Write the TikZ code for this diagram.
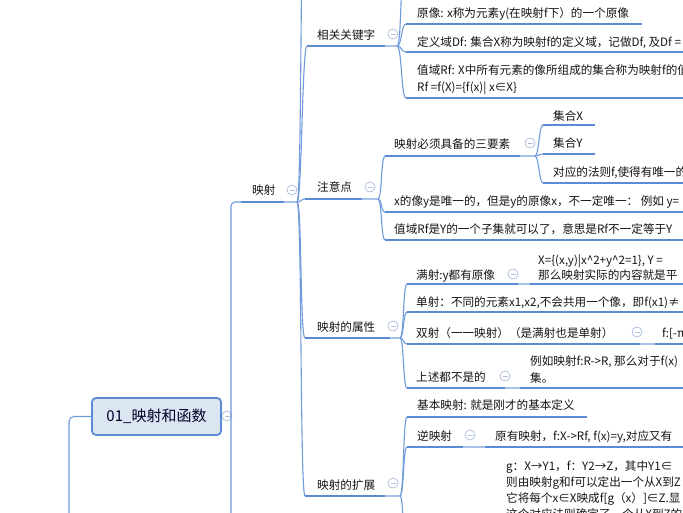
\documentclass[tikz,border=0pt]{standalone}
\usepackage{fontspec}
\setmainfont{Noto Sans CJK SC}
\definecolor{ul}{HTML}{5B8BD3}
\definecolor{cn}{HTML}{6F9BDB}
\definecolor{lt}{HTML}{A9C2EA}
\definecolor{cir}{HTML}{B3C1DD}
\definecolor{rootfill}{HTML}{DCE6F3}
\definecolor{txt}{HTML}{151515}
\tikzset{
  uline/.style={draw=ul, line width=2.6pt},
  conn/.style={draw=cn, line width=1.1pt},
  ext/.style={draw=lt, line width=1.6pt},
  lbl/.style={anchor=base west, inner sep=0pt, font=\fontsize{11.6}{14}\selectfont, text=txt},
  tog/.style={circle, draw=cir, fill=white, line width=0.8pt, minimum size=10pt, inner sep=0pt,
    path picture={\draw[cir, line width=0.8pt] ([xshift=-2.5pt]path picture bounding box.center) -- ([xshift=2.5pt]path picture bounding box.center);}},
  rootbox/.style={draw=ul, line width=1.8pt, fill=rootfill, rounded corners=4pt, minimum width=129pt, minimum height=37pt, inner sep=0pt, font=\fontsize{15}{18}\selectfont, text=black!85!blue},
}
\begin{document}
\begin{tikzpicture}[x=1pt,y=-1pt]
\useasboundingbox (0,0) rectangle (683,512);
\fill[white] (0,0) rectangle (683,512);
\clip (0,0) rectangle (683,512);

% ---------- root ----------
\node[rootbox] (root) at (156.5,416.5) {01\_映射和函数};
\node[tog] (rootT) at (227,416) {};
\coordinate (rootJ) at (231,416);
\coordinate (rootL) at (69,540);
\coordinate (rootB) at (231,540);
\draw[conn, rounded corners=5pt] (root.west) -| (rootL);
\draw[conn] (rootT.east) -- (rootJ);

% ---------- 映射 ----------
\coordinate (ys) at (241,202); \coordinate (ye) at (284,202); \coordinate (yJ) at (297,202);
\draw[conn, rounded corners=4pt] (rootB) |- (ys);
\draw[uline] (ys) -- (ye); \draw[ext] (ye) -- (yJ);
\node[lbl] (ylbl) at (252,194.5) {映射};
\node[tog] (yT) at (292,190) {};

% level 2 coordinates
\coordinate (yUp) at (305,-120);
\coordinate (as) at (307,46); \coordinate (ae) at (385,46); \coordinate (aJ) at (397,46);
\coordinate (bs) at (305,199); \coordinate (be) at (362,199); \coordinate (bJ) at (378,199);
\coordinate (cs) at (305,338); \coordinate (ce) at (390,338); \coordinate (cJ) at (400,338);
\coordinate (ds) at (305,496); \coordinate (de) at (385,496); \coordinate (dJ) at (400,496);
\draw[conn] (yJ) .. controls +(5,0) and +(-5,0) .. (yUp);
\draw[conn] (yJ) .. controls +(5,0) and +(-5,0) .. (as);
\draw[conn] (yJ) .. controls +(4,0) and +(-4,0) .. (bs);
\draw[conn] (yJ) .. controls +(5,0) and +(-5,0) .. (cs);
\draw[conn] (yJ) .. controls +(5,0) and +(-5,0) .. (ds);
\foreach \n in {a,b,c,d}{\draw[uline] (\n s) -- (\n e); \draw[ext] (\n e) -- (\n J);}
\node[lbl] (albl) at (317,39.5) {相关关键字};
\node[lbl] (blbl) at (317,191.5) {注意点};
\node[lbl] (clbl) at (317,331.5) {映射的属性};
\node[lbl] (dlbl) at (317,489.5) {映射的扩展};
\node[tog] (aT) at (393,34) {};
\node[tog] (bT) at (370,187) {};
\node[tog] (cT) at (393,326) {};
\node[tog] (dT) at (393,483) {};

% ---------- 相关关键字 children ----------
\coordinate (a0s) at (405,-40);
\coordinate (a1s) at (406,24); \coordinate (a1e) at (642,24);
\coordinate (a2s) at (406,52); \coordinate (a2e) at (700,52);
\coordinate (a3s) at (406,98); \coordinate (a3e) at (700,98);
\draw[conn] (aJ) .. controls +(5,0) and +(-5,0) .. (a0s);
\foreach \n in {a1,a2,a3}{\draw[conn] (aJ) .. controls +(5,0) and +(-5,0) .. (\n s); \draw[uline] (\n s) -- (\n e);}
\node[lbl] (a1t) at (417,17.5) {原像: x称为元素y(在映射f下）的一个原像};
\node[lbl] (a2t) at (417,46.5) {定义域Df: 集合X称为映射f的定义域，记做Df, 及Df =};
\node[lbl] (a3t) at (417,74.5) {值域Rf: X中所有元素的像所组成的集合称为映射f的值};
\node[lbl] (a3u) at (417,91.5) {Rf =f(X)=\{f(x)| x∈X\}};

% ---------- 注意点 children ----------
\coordinate (b1s) at (385,156); \coordinate (b1e) at (520,156); \coordinate (b1J) at (535,156);
\coordinate (b2s) at (385,212); \coordinate (b2e) at (700,212);
\coordinate (b3s) at (385,240); \coordinate (b3e) at (700,240);
\foreach \n in {b1,b2,b3}{\draw[conn] (bJ) .. controls +(4,0) and +(-4,0) .. (\n s); \draw[uline] (\n s) -- (\n e);}
\draw[ext] (b1e) -- (b1J);
\node[lbl] (b1t) at (394,148.5) {映射必须具备的三要素};
\node[tog] (b1T) at (530,143) {};
\node[lbl] (b2t) at (394,205.5) {x的像y是唯一的，但是y的原像x，不一定唯一： 例如 y=};
\node[lbl] (b3t) at (394,233.5) {值域Rf是Y的一个子集就可以了，意思是Rf不一定等于Y};

\coordinate (b11s) at (543,125); \coordinate (b11e) at (595,125);
\coordinate (b12s) at (543,154); \coordinate (b12e) at (595,154);
\coordinate (b13s) at (543,183); \coordinate (b13e) at (700,183);
\foreach \n in {b11,b12,b13}{\draw[conn] (b1J) .. controls +(4,0) and +(-4,0) .. (\n s); \draw[uline] (\n s) -- (\n e);}
\node[lbl] (b11t) at (553,120.5) {集合X};
\node[lbl] (b12t) at (553,147.5) {集合Y};
\node[lbl] (b13t) at (553,176.5) {对应的法则f,使得有唯一的};

% ---------- 映射的属性 children ----------
\coordinate (c1s) at (407,284); \coordinate (c1e) at (518,284);
\coordinate (c2s) at (407,312); \coordinate (c2e) at (700,312);
\coordinate (c3s) at (407,344); \coordinate (c3e) at (640,344);
\coordinate (c4s) at (407,388); \coordinate (c4e) at (505,388);
\foreach \n in {c1,c2,c3,c4}{\draw[conn] (cJ) .. controls +(4,0) and +(-4,0) .. (\n s); \draw[uline] (\n s) -- (\n e);}
\node[lbl] (c1t) at (416,279.5) {满射:y都有原像};
\node[tog] (c1T) at (513,274) {};
\node[lbl] (c2t) at (416,306.5) {单射：不同的元素x1,x2,不会共用一个像，即f(x1)≠};
\node[lbl] (c3t) at (416,337) {双射（一一映射）（是满射也是单射）};
\node[tog] (c3T) at (637,332) {};
\node[lbl] (c4t) at (416,381.5) {上述都不是的};
\node[tog] (c4T) at (505,376) {};

\coordinate (c11s) at (530,284); \coordinate (c11e) at (700,284);
\draw[ext] (c1e) -- (c11s); \draw[uline] (c11s) -- (c11e);
\node[lbl] (c11t) at (538,264.5) {X=\{(x,y)|x\textasciicircum 2+y\textasciicircum 2=1\}, Y =};
\node[lbl] (c11u) at (538,279.5) {那么映射实际的内容就是平};

\coordinate (c31s) at (655,344); \coordinate (c31e) at (700,344);
\draw[ext] (c3e) -- (c31s); \draw[uline] (c31s) -- (c31e);
\node[lbl] (c31t) at (662,337) {f:[-π};

\coordinate (c41s) at (520,388); \coordinate (c41e) at (700,388);
\draw[ext] (c4e) -- (c41s); \draw[uline] (c41s) -- (c41e);
\node[lbl] (c41t) at (530,365.5) {例如映射f:R->R, 那么对于f(x)};
\node[lbl] (c41u) at (530,382.5) {集。};

% ---------- 映射的扩展 children ----------
\coordinate (d1s) at (407,417); \coordinate (d1e) at (587,417);
\coordinate (d2s) at (407,447); \coordinate (d2e) at (463,447);
\coordinate (d3s) at (407,560);
\foreach \n in {d1,d2}{\draw[conn] (dJ) .. controls +(4,0) and +(-4,0) .. (\n s); \draw[uline] (\n s) -- (\n e);}
\draw[conn] (dJ) .. controls +(4,0) and +(-4,0) .. (d3s);
\node[lbl] (d1t) at (417,409.5) {基本映射: 就是刚才的基本定义};
\node[lbl] (d2t) at (417,440.5) {逆映射};
\node[tog] (d2T) at (470,435) {};

\coordinate (d21s) at (485,447); \coordinate (d21e) at (700,447);
\draw[ext] (d2e) -- (d21s); \draw[uline] (d21s) -- (d21e);
\node[lbl] (d21t) at (495,440.5) {原有映射，f:X->Rf, f(x)=y,对应又有};

\node[lbl] (d3t) at (506,470.5) {g：X→Y1，f：Y2→Z，其中Y1∈};
\node[lbl] (d3u) at (506,486.5) {则由映射g和f可以定出一个从X到Z};
\node[lbl] (d3v) at (506,502.5) {它将每个x∈X映成f[g（x）]∈Z.显};
\node[lbl] (d3w) at (506,518.5) {这个对应法则确定了一个从X到Z的};
\end{tikzpicture}
\end{document}
